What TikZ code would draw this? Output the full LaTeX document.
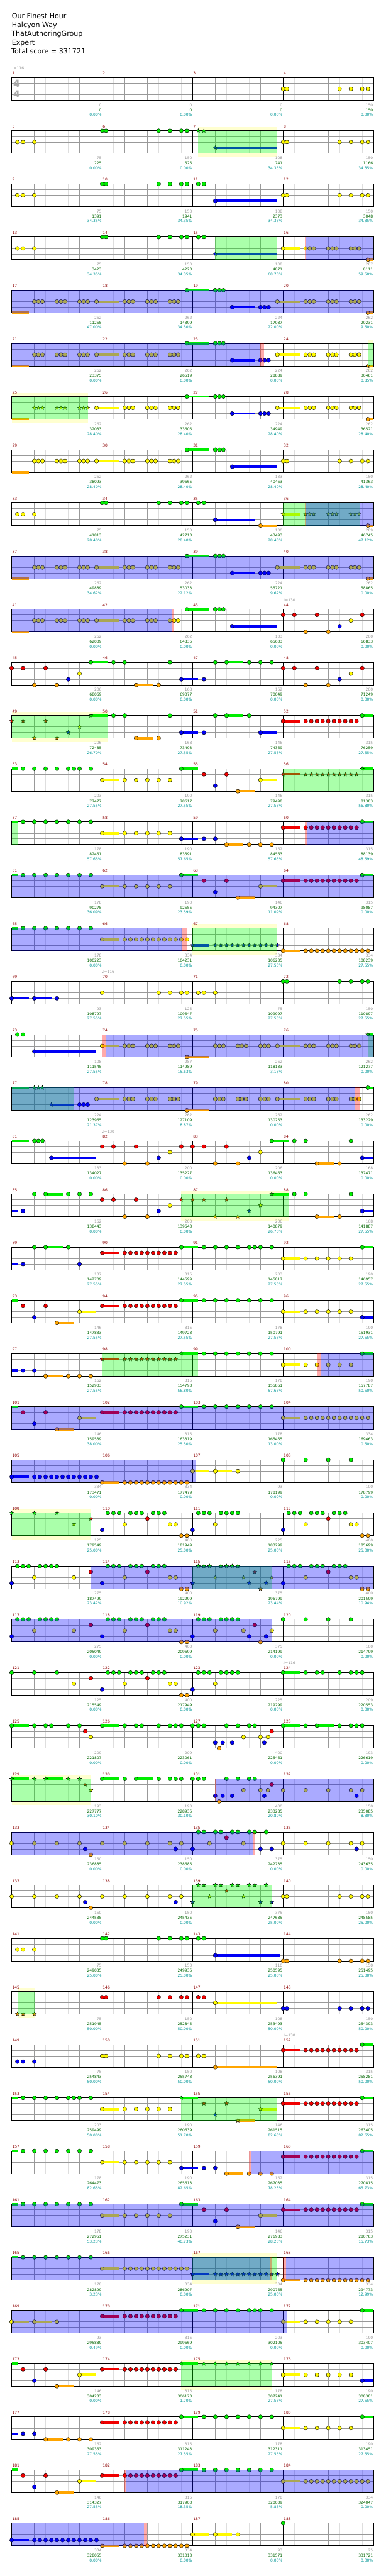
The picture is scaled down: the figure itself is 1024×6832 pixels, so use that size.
\documentclass[tikz,border=0pt]{standalone}
\usepackage{fontspec}
\setmainfont{DejaVu Sans}
\usetikzlibrary{shapes.geometric}

\definecolor{noteG}{RGB}{0,238,0}
\definecolor{noteR}{RGB}{240,0,0}
\definecolor{noteY}{RGB}{255,250,0}
\definecolor{noteB}{RGB}{0,0,245}
\definecolor{noteO}{RGB}{255,165,0}
\definecolor{barred}{RGB}{139,0,0}
\definecolor{scoregray}{RGB}{150,150,150}
\definecolor{scoregreen}{RGB}{0,100,0}
\definecolor{scoreteal}{RGB}{0,150,150}
\definecolor{bandyellow}{RGB}{255,255,208}
\definecolor{eighthgray}{RGB}{222,222,222}
\definecolor{beatgray}{RGB}{153,153,153}
\definecolor{siggray}{RGB}{170,170,170}

\def\laneG{0}\def\laneR{1}\def\laneY{2}\def\laneB{3}\def\laneO{4}

\tikzset{
  gem/.style={draw=black, line width=0.35pt},
  gemstar/.style={star, star points=5, star point ratio=2.3, minimum size=5.6pt,
    inner sep=0pt, draw=black, line width=0.35pt},
  holdbar/.style={line width=3.25pt},
  eighthline/.style={eighthgray, line width=0.5pt},
  beatline/.style={beatgray, line width=0.5pt},
  barline/.style={black, line width=0.5pt},
  staffframe/.style={black, line width=0.75pt},
  smalltext/.style={inner sep=0pt, font=\fontsize{5pt}{6pt}\selectfont},
  barnum/.style={smalltext, anchor=base west, barred},
  scorenum/.style={smalltext, anchor=base east},
  tempotext/.style={smalltext, anchor=base west, scoregray},
  timesig/.style={inner sep=0pt, siggray, font=\fontsize{13pt}{13pt}\bfseries\selectfont},
  titletext/.style={inner sep=0pt, anchor=base west, font=\fontsize{9.25pt}{11pt}\selectfont}
}

% notes: #1 = G R Y B O, lane from \laneX
\newcommand\gems[2]{\foreach \p in {#2}{\filldraw[gem, fill=note#1] (\p,\csname lane#1\endcsname) circle (2.65pt);}}
\newcommand\stars[2]{\foreach \p in {#2}{\node[gemstar, fill=note#1] at (\p,\csname lane#1\endcsname) {};}}
\newcommand\trip[2]{\foreach \q in {#2}{\gems{#1}{\q,\q+0.18,\q+0.36}}}
\newcommand\strip[2]{\foreach \q in {#2}{\stars{#1}{\q,\q+0.18,\q+0.36}}}
\newcommand\tailbar[3]{\draw[holdbar, draw=note#1] (#2,\csname lane#1\endcsname) -- (#3,\csname lane#1\endcsname);}
\newcommand\hold[3]{\tailbar{#1}{#2}{#3}\gems{#1}{#2}}
\newcommand\shold[3]{\tailbar{#1}{#2}{#3}\stars{#1}{#2}}

% zones (green first, then blue, then red)
\newcommand\band[2]{\fill[bandyellow] (#1,-0.667) rectangle (#2,4.667);}
\newcommand\spz[2]{\fill[green, opacity=0.333] (#1,0) rectangle (#2,4);}
\newcommand\odz[2]{\fill[blue, opacity=0.333] (#1,0) rectangle (#2,4);}
\newcommand\ode[2]{\fill[red, opacity=0.333] (#1,0) rectangle (#2,4);}
\newcommand\tempo[2]{\node[tempotext] at (#1,-1.4) {♩=#2};}

% one line of four bars: index, bands, notes, zones, scores
\newcommand\chartrow[5]{%
\begin{scope}[shift={(31,205.7+141*#1)}, x=30pt, y=-7.5pt]
  #2
  \fill[white] (0,0) rectangle (16,4);
  \foreach \i in {0.5,1.5,...,15.5} \draw[eighthline] (\i,0) -- (\i,4);
  \foreach \i in {1,2,3,5,6,7,9,10,11,13,14,15} \draw[beatline] (\i,0) -- (\i,4);
  \foreach \j in {1,2,3} \draw[beatline] (0,\j) -- (16,\j);
  \foreach \i in {4,8,12} \draw[barline] (\i,0) -- (\i,4);
  \draw[staffframe] (0,0) rectangle (16,4);
  #3
  #4
  \foreach \g/\s/\c [count=\m] in {#5} {
    \pgfmathtruncatemacro\mnum{4*#1+\m}
    \node[barnum] at ({4*\m-4+0.02},-0.5) {\mnum};
    \node[scorenum, scoregray] at ({4*\m-0.02},5.08) {\g};
    \node[scorenum, scoregreen] at ({4*\m-0.02},5.98) {\s};
    \node[scorenum, scoreteal] at ({4*\m-0.02},6.84) {\c\%};
  }
\end{scope}}

\begin{document}
\begin{tikzpicture}[x=0.5pt, y=-0.5pt]
\useasboundingbox (0,0) rectangle (1024,6832);

\node[titletext] at (31,49) {Our Finest Hour};
\node[titletext] at (31,72.3) {Halcyon Way};
\node[titletext] at (30,95.6) {ThatAuthoringGroup};
\node[titletext] at (31,118.9) {Expert};
\node[titletext] at (30,142.2) {Total score = 331721};

% bars 1-16
\chartrow{0}{}{\node[timesig] at (0.22,1) {4}; \node[timesig] at (0.22,3) {4};
  \gems{Y}{12,12.17,14.5,15,15.5,15.75}}{\tempo{0}{116}}
  {0/0/0.00,0/0/0.00,0/0/0.00,150/150/0.00}
\chartrow{1}{\band{8.25}{11.75}}{\gems{Y}{0.25,0.5,1}\gems{G}{4,4.17,6.5,7,7.5,7.75}\stars{G}{8.25,8.5}
  \shold{B}{9}{11.75}\gems{Y}{12,12.17,14.5,15,15.5,15.75}}{\spz{8.25}{11.75}}
  {75/225/0.00,150/525/0.00,108/741/34.35,150/1166/34.35}
\chartrow{2}{}{\gems{Y}{0.25,0.5,1}\gems{G}{4,4.17,6.5,7,7.5,7.75,8.25,8.5}\hold{B}{9}{11.75}
  \gems{Y}{12,12.17,14.5,15,15.5,15.75}}{}
  {75/1391/34.35,150/1941/34.35,108/2373/34.35,150/3048/34.35}
\chartrow{3}{}{\gems{Y}{0.25,0.5,1}\gems{G}{4,4.17,6.5,7,7.5,7.75,8.25,8.5}\shold{B}{9}{11.75}
  \hold{Y}{12}{12.75}\trip{Y}{13,14,15}\hold{O}{15.75}{16}}{\spz{9}{11.75}\odz{13}{16}\ode{12.97}{13.02}}
  {75/3423/34.35,150/4223/34.35,108/4871/68.70,287/8111/59.50}

% bars 17-32
\chartrow{4}{}{\tailbar{O}{0}{0.75}\trip{Y}{1,2,3}\hold{Y}{3.75}{4.75}\trip{Y}{5,6,7}\hold{G}{7.75}{8.75}\trip{G}{9}
  \hold{B}{9.75}{10.75}\trip{B}{11}\hold{Y}{11.75}{12.75}\trip{Y}{13,14,15}\hold{O}{15.75}{16}}{\odz{0}{16}}
  {262/11255/47.00,262/14399/34.50,224/17087/22.00,262/20231/9.50}
\chartrow{5}{\band{15.75}{16}}{\tailbar{O}{0}{0.75}\trip{Y}{1,2,3}\hold{Y}{3.75}{4.75}\trip{Y}{5,6,7}\hold{G}{7.75}{8.75}\trip{G}{9}
  \hold{B}{9.75}{10.75}\trip{B}{11}\hold{Y}{11.75}{12.75}\trip{Y}{13,14,15}\shold{O}{15.75}{16}}
  {\spz{15.75}{16}\odz{0}{11}\ode{11}{11.17}}
  {262/23375/0.00,262/26519/0.00,224/28889/0.00,262/30461/0.85}
\chartrow{6}{\band{0}{3.37}}{\tailbar{O}{0}{0.75}\strip{Y}{1,2,3}\hold{Y}{3.75}{4.75}\trip{Y}{5,6,7}\hold{G}{7.75}{8.75}\trip{G}{9}
  \hold{B}{9.75}{10.75}\trip{B}{11}\hold{Y}{11.75}{12.75}\trip{Y}{13,14,15}\hold{O}{15.75}{16}}{\spz{0}{3.37}}
  {262/32033/28.40,262/33605/28.40,224/34949/28.40,262/36521/28.40}
\chartrow{7}{}{\tailbar{O}{0}{0.75}\trip{Y}{1,2,3}\hold{Y}{3.75}{4.75}\trip{Y}{5,6,7}\hold{G}{7.75}{8.75}\trip{G}{9}
  \hold{B}{9.75}{11.75}\gems{Y}{12,12.17,14.5,15,15.5,15.75}}{}
  {262/38093/28.40,262/39665/28.40,133/40463/28.40,150/41363/28.40}

% bars 33-48
\chartrow{8}{}{\gems{Y}{0.25,0.5,1}\gems{G}{4,4.17,6.5,7,7.5,7.75,8.25,8.5}\hold{B}{9}{10.75}\hold{O}{11}{11.75}
  \shold{Y}{12}{12.75}\strip{Y}{13,14,15}\hold{O}{15.75}{16}}{\spz{12}{15.38}\odz{13}{16}\ode{12.97}{13.02}}
  {75/41813/28.40,150/42713/28.40,130/43493/28.40,289/46745/47.12}
\chartrow{9}{}{\tailbar{O}{0}{0.75}\trip{Y}{1,2,3}\hold{Y}{3.75}{4.75}\trip{Y}{5,6,7}\hold{G}{7.75}{8.75}\trip{G}{9}
  \hold{B}{9.75}{10.75}\trip{B}{11}\hold{Y}{11.75}{12.75}\trip{Y}{13,14,15}\hold{O}{15.75}{16}}{\odz{0}{16}}
  {262/49889/34.62,262/53033/22.12,224/55721/9.62,262/58865/0.00}
\chartrow{10}{}{\tailbar{O}{0}{0.75}\trip{Y}{1,2,3}\hold{Y}{3.75}{4.75}\trip{Y}{5,6,7}\hold{G}{7.75}{8.75}\trip{G}{9}
  \hold{B}{9.75}{11.75}\gems{R}{12,12.5,13.5,15.5}\gems{O}{13,14}\gems{B}{14.5}\gems{Y}{15}}
  {\odz{0}{7.07}\ode{7.07}{7.18}\tempo{12}{130}}
  {262/62009/0.00,262/64835/0.00,133/65633/0.00,200/66833/0.00}
\chartrow{11}{}{\gems{R}{0,0.5,1.5}\gems{O}{1,2}\gems{B}{2.5}\gems{Y}{3}\hold{G}{3.5}{4.25}\gems{G}{4.5,5}
  \hold{O}{5.5}{6.25}\gems{O}{6.5}\gems{G}{7}\hold{B}{7.5}{8.25}\gems{B}{8.5}\gems{G}{9}\hold{G}{9.5}{10.25}
  \gems{G}{10.5,11,11.5}\gems{R}{12,12.5,13.5,15.5}\gems{O}{13,14}\gems{B}{14.5}\gems{Y}{15}}{}
  {206/68069/0.00,168/69077/0.00,162/70049/0.00,200/71249/0.00}

% bars 49-64
\chartrow{12}{\band{0}{4.25}}{\stars{R}{0,0.5,1.5}\stars{O}{1,2}\stars{B}{2.5}\stars{Y}{3}\shold{G}{3.5}{4.25}
  \gems{G}{4.5,5}\hold{O}{5.5}{6.25}\gems{O}{6.5}\gems{G}{7}\hold{B}{7.5}{8.25}\gems{B}{8.5}\gems{G}{9}
  \hold{G}{9.5}{10.25}\gems{G}{10.5}\hold{B}{11}{11.75}\hold{R}{12}{12.75}\gems{R}{13,13.25,...,15.25}\hold{G}{15.5}{16}}
  {\spz{0}{4.25}}
  {206/72485/26.70,168/73493/27.55,146/74369/27.55,315/76259/27.55}
\chartrow{13}{}{\tailbar{G}{0}{0.25}\gems{G}{0.5,1,1.5,2,2.5,2.75,3,3.5}\hold{Y}{4}{4.75}\gems{Y}{5,5.5,...,7}
  \hold{G}{7.5}{8.25}\gems{R}{8.5,9.5}\gems{B}{9}\hold{O}{10}{10.75}\hold{Y}{11}{11.75}
  \shold{R}{12}{12.75}\stars{R}{13,13.25,...,15.25}\shold{G}{15.5}{16}}{\spz{12}{16}}
  {203/77477/27.55,190/78617/27.55,146/79498/27.55,315/81383/56.80}
\chartrow{14}{}{\tailbar{G}{0}{0.25}\gems{G}{0.5,1,...,3.5}\hold{Y}{4}{4.75}\gems{Y}{5,5.5,...,7}
  \hold{B}{7.5}{8.25}\gems{B}{8.5,9}\hold{O}{9.5}{10.25}\gems{O}{10.5,11,11.5}
  \hold{R}{12}{12.75}\gems{R}{13,13.25,...,15.25}\hold{G}{15.5}{16}}{\spz{0}{0.25}\odz{13.05}{16}\ode{12.97}{13.05}}
  {178/82451/57.65,190/83591/57.65,162/84563/57.65,315/88139/48.59}
\chartrow{15}{}{\tailbar{G}{0}{0.25}\gems{G}{0.5,1,...,3.5}\hold{Y}{4}{4.75}\gems{Y}{5,5.5,...,7}
  \hold{G}{7.5}{8.25}\gems{R}{8.5,9.5}\gems{B}{9}\hold{O}{10}{10.75}\hold{Y}{11}{11.75}
  \hold{R}{12}{12.75}\gems{R}{13,13.25,...,15.25}\hold{G}{15.5}{16}}{\odz{0}{16}}
  {178/90275/36.09,190/92555/23.59,146/94307/11.09,315/98087/0.00}

% bars 65-80
\chartrow{16}{\band{8}{11.75}}{\tailbar{G}{0}{0.25}\gems{G}{0.5,1,...,3.5}\hold{Y}{4}{4.75}\gems{Y}{5,5.25,...,7.75}
  \shold{B}{8}{8.75}\stars{B}{9,9.25,...,11.75}\hold{O}{12}{12.75}\gems{O}{13,13.25,...,15.75}}
  {\spz{8}{11.75}\odz{0}{7.55}\ode{7.55}{7.76}}
  {178/100223/0.00,334/104231/0.00,334/106235/27.55,334/108239/27.55}
\chartrow{17}{}{\hold{B}{0}{0.75}\hold{B}{1}{1.75}\gems{B}{2}\gems{Y}{4,6.5,7,7.5,7.75,8.25,8.5,9}
  \gems{G}{12,12.17,14.5,15,15.5,15.75}}{\tempo{4}{116}}
  {93/108797/27.55,125/109547/27.55,75/109997/27.55,150/110897/27.55}
\chartrow{18}{}{\gems{G}{0.25,0.5}\hold{B}{1}{3.75}\hold{Y}{4}{4.75}\trip{Y}{5,6,7}\hold{O}{7.75}{8.75}
  \trip{Y}{9,10,11}\hold{Y}{11.75}{12.75}\trip{Y}{13,14,15}\shold{G}{15.75}{16}}
  {\spz{15.75}{16}\odz{4.18}{16}\ode{4}{4.18}}
  {108/111545/27.55,287/114989/15.63,262/118133/3.13,262/121277/0.00}
\chartrow{19}{}{\tailbar{G}{0}{0.75}\strip{G}{1}\shold{B}{1.75}{2.75}\trip{B}{3}\hold{Y}{3.75}{4.75}\trip{Y}{5,6,7}
  \hold{O}{7.75}{8.75}\trip{Y}{9,10,11}\hold{Y}{11.75}{12.75}\trip{Y}{13,14,15}\hold{G}{15.75}{16}}
  {\spz{0}{2.75}\odz{0}{15.17}\ode{15.17}{15.38}}
  {224/123965/21.37,262/127109/8.87,262/130253/0.00,262/133229/0.00}

% bars 81-96
\chartrow{20}{}{\tailbar{G}{0}{0.75}\trip{G}{1}\hold{B}{1.75}{3.75}\gems{R}{4,4.5,5.5,7.5,8,8.5,9.5}\gems{O}{5,6,9,10}
  \gems{B}{6.5,10.5}\gems{Y}{7,11}\hold{G}{11.5}{12.25}\gems{G}{12.5,13,15}\hold{O}{13.5}{14.25}\gems{O}{14.5}
  \hold{B}{15.5}{16}}{\tempo{4}{130}}
  {133/134027/0.00,200/135227/0.00,206/136463/0.00,168/137471/0.00}
\chartrow{21}{\band{7.5}{12.25}}{\tailbar{B}{0}{0.25}\gems{B}{0.5}\gems{G}{1}\hold{G}{1.5}{2.25}\gems{G}{2.5,3,3.5}
  \gems{R}{4,4.5,5.5}\gems{O}{5,6}\gems{B}{6.5}\gems{Y}{7}\stars{R}{7.5,8,8.5,9.5}\stars{O}{9,10}\stars{B}{10.5}
  \stars{Y}{11}\shold{G}{11.5}{12.25}\gems{G}{12.5,13,15}\hold{O}{13.5}{14.25}\gems{O}{14.5}\hold{B}{15.5}{16}}
  {\spz{7.5}{12.25}}
  {162/138443/0.00,200/139643/0.00,206/140879/26.70,168/141887/27.55}
\chartrow{22}{}{\tailbar{B}{0}{0.25}\gems{B}{0.5,3}\gems{G}{1}\hold{G}{1.5}{2.25}\gems{G}{2.5}\hold{R}{4}{4.75}
  \gems{R}{5,5.25,...,7.25}\hold{G}{7.5}{8.25}\gems{G}{8.5,9,9.5,10,10.5,10.75,11,11.5}\hold{Y}{12}{12.75}
  \gems{Y}{13,13.5,...,15}\hold{G}{15.5}{16}}{}
  {137/142709/27.55,315/144599/27.55,203/145817/27.55,190/146957/27.55}
\chartrow{23}{}{\tailbar{G}{0}{0.25}\gems{R}{0.5,1.5}\gems{B}{1}\hold{O}{2}{2.75}\hold{Y}{3}{3.75}\hold{R}{4}{4.75}
  \gems{R}{5,5.25,...,7.25}\hold{G}{7.5}{8.25}\gems{G}{8.5,9,...,11.5}\hold{Y}{12}{12.75}
  \gems{Y}{13,13.5,...,15}\hold{B}{15.5}{16}}{}
  {146/147833/27.55,315/149723/27.55,178/150791/27.55,190/151931/27.55}

% bars 97-112
\chartrow{24}{}{\tailbar{B}{0}{0.25}\gems{B}{0.5,1}\hold{O}{1.5}{2.25}\gems{O}{2.5,3,3.5}\shold{R}{4}{4.75}
  \stars{R}{5,5.25,...,7.25}\shold{G}{7.5}{8.25}\gems{G}{8.5,9,...,11.5}\hold{Y}{12}{12.75}
  \gems{Y}{13,13.5,14,14.5,15}\hold{G}{15.5}{16}}{\spz{4}{8.25}\odz{13.68}{16}\ode{13.5}{13.68}}
  {162/152903/27.55,315/154793/56.80,178/155861/57.65,190/157787/50.50}
\chartrow{25}{}{\tailbar{G}{0}{0.25}\gems{R}{0.5,1.5}\gems{B}{1}\hold{O}{2}{2.75}\hold{Y}{3}{3.75}\hold{R}{4}{4.75}
  \gems{R}{5,5.25,...,7.25}\hold{G}{7.5}{8.25}\gems{G}{8.5,9,...,11.5}\hold{Y}{12}{12.75}
  \gems{Y}{13,13.25,...,15.75}}{\odz{0}{16}}
  {146/159539/38.00,315/163319/25.50,178/165455/13.00,334/169463/0.50}
\chartrow{26}{}{\hold{B}{0}{0.75}\gems{B}{1,1.25,...,3.75}\hold{O}{4}{4.75}\gems{O}{5,5.25,...,7.75}
  \hold{Y}{8}{8.75}\hold{Y}{9}{9.75}\gems{Y}{10}\gems{G}{12,13,14,15}}{\odz{0}{8.14}}
  {334/173471/0.00,334/177479/0.00,93/178199/0.00,100/178799/0.00}
\chartrow{27}{\band{0}{3.5}}{\stars{G}{0,1,2}\stars{Y}{2.75}\stars{R}{3.5}
  \gems{B}{4,8}\gems{G}{4.25,4.5,4.75,5.25,5.5,5.75,6.25,6.5,6.75,8.25,8.5,8.75,9.25,9.5,9.75,10}
  \gems{Y}{5,7,7.25,9}\gems{R}{6}\gems{O}{7.5,7.75}
  \gems{B}{12}\gems{G}{12.25,12.5,12.75,13.25,13.5,13.75,14.25,14.5,14.75}\gems{Y}{13,15,15.25}\gems{R}{14}
  \gems{O}{15.5,15.75}}{\spz{0}{3.5}}
  {125/179549/25.00,400/181949/25.00,225/183299/25.00,400/185699/25.00}

% bars 113-128
\chartrow{28}{}{\gems{B}{0}\gems{G}{0.25,0.5,0.75,1.25,1.5,1.75,2}\gems{Y}{1,2.75}\gems{R}{3.5}
  \gems{B}{4}\gems{G}{4.25,4.5,4.75,5.25,5.5,5.75,6.25,6.5,6.75}\gems{Y}{5,7,7.25}\gems{R}{6}\gems{O}{7.5,7.75}
  \stars{B}{8,10.5,11.25}\stars{G}{8.25,8.5,8.75,9.25,9.5,9.75,10}\stars{Y}{9,10.25,11.5}\stars{R}{10.75}\stars{O}{11}
  \gems{B}{12}\gems{G}{12.25,12.5,12.75,13.25,13.5,13.75,14.25,14.5,14.75}\gems{Y}{13,15,15.25}\gems{R}{14}
  \gems{O}{15.5,15.75}}{\spz{8}{11.5}\odz{3.49}{16}}
  {275/187499/23.42,400/192299/10.92,375/196799/23.44,400/201599/10.94}
\chartrow{29}{}{\gems{B}{0}\gems{G}{0.25,0.5,0.75,1.25,1.5,1.75,2}\gems{Y}{1,2.75}\gems{R}{3.5}
  \gems{B}{4}\gems{G}{4.25,4.5,4.75,5.25,5.5,5.75,6.25,6.5,6.75}\gems{Y}{5,7,7.25}\gems{R}{6}\gems{O}{7.5,7.75}
  \gems{B}{8,10.5,11.25}\gems{G}{8.25,8.5,8.75,9.25,9.5,9.75,10}\gems{Y}{9,10.25,11.5}\gems{R}{10.75}\gems{O}{11}
  \gems{G}{12,13,14,15}}{\odz{0}{11.5}\ode{11.5}{11.53}}
  {275/205049/0.00,400/209699/0.00,375/214199/0.00,100/214799/0.00}
\chartrow{30}{}{\gems{G}{0,1,2}\gems{Y}{2.75}\gems{R}{3.5}
  \gems{B}{4,8}\gems{G}{4.25,4.5,4.75,5.25,5.5,5.75,6.25,6.5,6.75,8.25,8.5,8.75,9.25,9.5,9.75,10}
  \gems{Y}{5,7,7.25,9}\gems{R}{6}\gems{O}{7.5,7.75}
  \hold{G}{12}{12.75}\gems{G}{13,13.5,13.75,14.5,15,15.25,15.5}}{\tempo{12}{116}}
  {125/215549/0.00,400/217949/0.00,225/219299/0.00,209/220553/0.00}
\chartrow{31}{}{\hold{G}{0}{0.75}\gems{G}{1,1.5,1.75,2.5,3}\gems{R}{3.25}\gems{Y}{3.5}\hold{G}{4}{4.75}
  \gems{G}{5,5.5,5.75,6.5,7,7.25,7.5,8,8.25,8.5}\gems{B}{9,9.33,9.75,11.17}\gems{O}{9.17}
  \gems{G}{9.5,10,10.5,10.75}\gems{Y}{10.25,11,11.33}\gems{R}{11.5}\hold{G}{12}{12.75}\gems{G}{13}
  \hold{G}{13.5}{14.25}\gems{G}{14.5,15,15.25,15.5}}{}
  {209/221807/0.00,209/223061/0.00,400/225461/0.00,193/226619/0.00}

% bars 129-144
\chartrow{32}{\band{0}{3.5}}{\shold{G}{0}{0.75}\stars{G}{1}\shold{G}{1.5}{2.25}\stars{G}{2.5,3}\stars{R}{3.25}
  \stars{Y}{3.5}\hold{G}{4}{4.75}\gems{G}{5}\hold{G}{5.5}{6.25}\gems{G}{6.5,7,7.25,7.5,8,8.25,8.5}
  \gems{B}{9,9.33,9.75,11.17}\gems{O}{9.17}\gems{G}{9.5,10,10.5,10.75}\gems{Y}{10.25,11,11.33}\gems{R}{11.5}
  \gems{Y}{12,13,14,15,15.5}\gems{B}{15.25}}{\spz{0}{3.5}\odz{9.02}{16}\ode{8.99}{9.02}}
  {193/227777/30.10,193/228935/30.10,400/233285/20.80,150/235085/8.30}
\chartrow{33}{}{\gems{Y}{0,1,2,3,4,5,6,7,7.5,8.75,10.25,12,13,14,15,15.5}\gems{B}{3.25,7.25,8,11,11.5,15.25}
  \gems{O}{3.5}\gems{G}{8.25,8.5,9,9.25,9.75,10,10.5,10.75,11.25}\gems{R}{9.5}}{\odz{0}{10.65}\ode{10.65}{10.75}}
  {150/236885/0.00,150/238685/0.00,375/242735/0.00,150/243635/0.00}
\chartrow{34}{}{\gems{Y}{0,1,2,3,4,5,6,7,7.5}\gems{B}{3.25,7.25}\gems{O}{3.5}\stars{B}{8,11,11.5}
  \stars{G}{8.25,8.5,9,9.25,9.75,10,10.5,10.75,11.25}\stars{Y}{8.75,10.25}\stars{R}{9.5}
  \gems{Y}{12,12.17,14.5,15,15.5,15.75}}{\spz{8}{11.5}}
  {150/244535/0.00,150/245435/0.00,375/247685/25.00,150/248585/25.00}
\chartrow{35}{}{\gems{Y}{0.25,0.5,1}\gems{G}{4,4.17,6.5,7,7.5,7.75,8.25,8.5}\hold{B}{9}{11.87}
  \gems{O}{12,12.17,14.5,15,15.5,15.75}}{}
  {75/249035/25.00,150/249935/25.00,110/250595/25.00,150/251495/25.00}

% bars 145-160
\chartrow{36}{\band{0.25}{1}}{\stars{O}{0.25,0.5,1}\gems{R}{4,4.17,6.5,7,7.5,7.75,8.25,8.5}\hold{Y}{9}{11.75}
  \gems{B}{12,12.17,14.5,15,15.5,15.75}}{\spz{0.25}{1}}
  {75/251945/50.00,150/252845/50.00,108/253493/50.00,150/254393/50.00}
\chartrow{37}{}{\gems{B}{0.25,0.5,1}\gems{Y}{4,4.17,6.5,7,7.5,7.75,8.25,8.5}\hold{O}{9}{11.75}\hold{R}{12}{12.75}
  \gems{R}{13,13.25,...,15.25}\hold{G}{15.5}{16}}{\tempo{12}{130}}
  {75/254843/50.00,150/255743/50.00,108/256391/50.00,315/258281/50.00}
\chartrow{38}{}{\tailbar{G}{0}{0.25}\gems{G}{0.5,1,1.5,2,2.5,2.75,3,3.5}\hold{Y}{4}{4.75}\gems{Y}{5,5.5,...,7}
  \shold{G}{7.5}{8.25}\stars{R}{8.5,9.5}\stars{B}{9}\shold{O}{10}{10.75}\shold{Y}{11}{11.75}
  \hold{R}{12}{12.75}\gems{R}{13,13.25,...,15.25}\hold{G}{15.5}{16}}{\spz{7.5}{11.75}}
  {203/259499/50.00,190/260639/51.70,146/261515/82.65,315/263405/82.65}
\chartrow{39}{}{\tailbar{G}{0}{0.25}\gems{G}{0.5,1,...,3.5}\hold{Y}{4}{4.75}\gems{Y}{5,5.5,...,7}
  \hold{B}{7.5}{8.25}\gems{B}{8.5,9}\hold{O}{9.5}{10.25}\gems{O}{10.5,11,11.5}
  \hold{R}{12}{12.75}\gems{R}{13,13.25,...,15.25}\hold{G}{15.5}{16}}{\odz{10.6}{16}\ode{10.5}{10.6}}
  {178/264473/82.65,190/265613/82.65,162/267035/78.23,315/270815/65.73}

% bars 161-176
\chartrow{40}{}{\tailbar{G}{0}{0.25}\gems{G}{0.5,1,...,3.5}\hold{Y}{4}{4.75}\gems{Y}{5,5.5,...,7}
  \hold{G}{7.5}{8.25}\gems{R}{8.5,9.5}\gems{B}{9}\hold{O}{10}{10.75}\hold{Y}{11}{11.75}
  \hold{R}{12}{12.75}\gems{R}{13,13.25,...,15.25}\hold{G}{15.5}{16}}{\odz{0}{16}}
  {178/272951/53.23,190/275231/40.73,146/276983/28.23,315/280763/15.73}
\chartrow{41}{\band{8}{11.75}}{\tailbar{G}{0}{0.25}\gems{G}{0.5,1,...,3.5}\hold{Y}{4}{4.75}\gems{Y}{5,5.25,...,7.75}
  \shold{B}{8}{8.75}\stars{B}{9,9.25,...,11.75}\hold{O}{12}{12.75}\gems{O}{13,13.25,...,15.75}}
  {\spz{8}{11.75}\odz{0}{11.4}\odz{12.13}{16}\ode{11.4}{11.5}\ode{12}{12.13}}
  {178/282899/3.23,334/286907/0.00,334/290765/25.00,334/294773/12.99}
\chartrow{42}{}{\hold{Y}{0}{0.75}\hold{Y}{1}{1.75}\gems{Y}{2}\hold{R}{4}{4.75}\gems{R}{5,5.25,...,7.25}
  \hold{G}{7.5}{8.25}\gems{G}{8.5,9,9.5,10,10.5,10.75,11,11.5}\hold{Y}{12}{12.75}\gems{Y}{13,13.5,...,15}
  \hold{G}{15.5}{16}}{\odz{0}{12.15}}
  {93/295889/0.49,315/299669/0.00,203/302105/0.00,190/303407/0.00}
\chartrow{43}{\band{7.5}{11.5}}{\tailbar{G}{0}{0.25}\gems{R}{0.5,1.5}\gems{B}{1}\hold{O}{2}{2.75}\hold{Y}{3}{3.75}
  \hold{R}{4}{4.75}\gems{R}{5,5.25,...,7.25}\shold{G}{7.5}{8.25}\stars{G}{8.5,9,...,11.5}\hold{Y}{12}{12.75}
  \gems{Y}{13,13.5,...,15}\hold{B}{15.5}{16}}{\spz{7.5}{11.5}}
  {146/304283/0.00,315/306173/1.70,178/307241/27.55,190/308381/27.55}

% bars 177-188
\chartrow{44}{}{\tailbar{B}{0}{0.25}\gems{B}{0.5,1}\hold{O}{1.5}{2.25}\gems{O}{2.5,3,3.5}\hold{R}{4}{4.75}
  \gems{R}{5,5.25,...,7.25}\hold{G}{7.5}{8.25}\gems{G}{8.5,9,...,11.5}\hold{Y}{12}{12.75}
  \gems{Y}{13,13.5,...,15}\hold{G}{15.5}{16}}{}
  {162/309353/27.55,315/311243/27.55,178/312311/27.55,190/313451/27.55}
\chartrow{45}{}{\tailbar{G}{0}{0.25}\gems{R}{0.5,1.5}\gems{B}{1}\hold{O}{2}{2.75}\hold{Y}{3}{3.75}\hold{R}{4}{4.75}
  \gems{R}{5,5.25,...,7.25}\hold{G}{7.5}{8.25}\gems{G}{8.5,9,...,11.5}\hold{Y}{12}{12.75}
  \gems{Y}{13,13.25,...,15.75}}{\odz{5.03}{16}\ode{4.99}{5.03}}
  {146/314327/27.55,315/317903/18.35,178/320039/5.85,334/324047/0.00}
\chartrow{46}{}{\hold{B}{0}{0.75}\gems{B}{1,1.25,...,3.75}\hold{O}{4}{4.75}\gems{O}{5,5.25,...,7.75}
  \hold{Y}{8}{8.75}\hold{Y}{9}{9.75}\gems{Y}{10}\gems{G}{12}}{\odz{0}{5.85}\ode{5.85}{6}}
  {334/328055/0.00,334/331013/0.00,93/331571/0.00,25/331721/0.00}
\end{tikzpicture}
\end{document}
